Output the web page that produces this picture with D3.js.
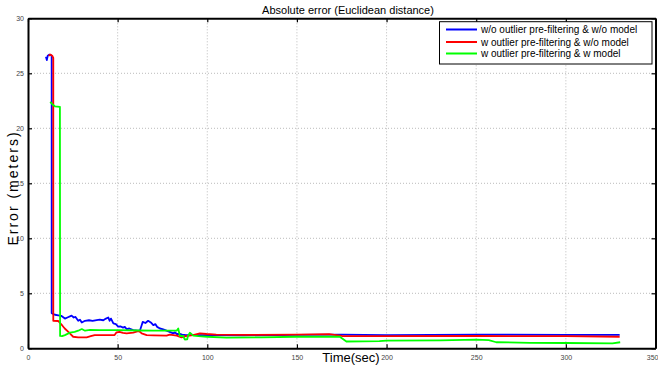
<!DOCTYPE html>
<html><head><meta charset="utf-8">
<script src="https://cdn.jsdelivr.net/npm/d3@7"></script>
<style>body{margin:0;background:#fff;} svg{display:block;font-family:"Liberation Sans",Arial,sans-serif;}</style>
</head><body>
<script>
const title = "Absolute error (Euclidean distance)";
const xLabel = "Time(sec)";
const yLabel = "Error (meters)";
const xTicks = [0,50,100,150,200,250,300,350];
const yTicks = [0,5,10,15,20,25,30];
const seriesNames = ["w/o outlier pre-filtering & w/o model","w outlier pre-filtering & w/o model","w outlier pre-filtering & w model"];
const seriesColors = ["#0000ff","#ff0000","#00ff00"];

const blueT = [10,10.5,11,12,13.2,13.2,15,16.9,18.5,20.6,22,24.3,25.5,26.5,28,29,30,31.8,34,36,38.3,40,42,43.5,44.8,45.5,46.3,47.6,49,50.3,51.5,53,54,55,56.5,58.7,60.5,62.4,63.4,64,65.5,67,68.5,69.9,71,72,73.6,75,77.3,79,81,82,83,84.7,86,88,100,120,150,175,200,250,300,330];
const blueV = [26.5,26.2,26.6,26.7,26.6,3.2,3.05,3.0,2.95,2.7,2.8,2.97,2.8,2.85,2.5,2.6,2.35,2.5,2.55,2.5,2.57,2.6,2.55,2.7,2.8,2.5,2.7,2.27,2.2,1.97,2.0,1.88,1.95,1.75,1.8,1.66,1.62,1.6,2.1,2.4,2.3,2.5,2.35,2.1,2.2,1.95,1.8,1.75,1.6,1.5,1.36,1.45,1.3,1.3,1.25,1.2,1.2,1.18,1.22,1.25,1.2,1.25,1.22,1.22];

const redT = [11.5,12.5,13.5,14.1,14.1,16.9,17.8,19,20.5,22.5,24,25.2,28,32.7,35,37.2,42,48.3,49.4,51,53,55,58.7,61.5,62.5,63.4,66.2,70,77.3,79,81,83,85.6,88,92,95.9,99.6,105,120,150,168,175,200,250,300,330];
const redV = [26.6,26.7,26.6,26.4,2.5,2.48,2.3,2.1,1.8,1.5,1.25,1.05,1.0,1.0,1.1,1.2,1.2,1.2,1.45,1.5,1.4,1.36,1.42,1.55,1.5,1.36,1.2,1.18,1.15,1.25,1.2,1.15,1.0,1.1,1.2,1.36,1.3,1.25,1.22,1.25,1.28,1.12,1.1,1.12,1.1,1.05];

const greenT = [12.4,13.5,15,17.8,17.9,19,20.6,23.4,26,28,30,31.8,34.6,40,50,62.4,70,76.4,82.9,83.8,84.7,86.5,87.5,88.8,89.2,90.3,92.2,95,100,110.7,130,149,173.9,177.6,196,200,230,250,257,261.2,280,300,326,330.3];
const greenV = [22.4,22.2,22.0,21.95,1.12,1.1,1.2,1.42,1.5,1.6,1.75,1.6,1.68,1.66,1.66,1.62,1.6,1.6,1.6,1.8,1.12,1.12,0.8,0.82,1.12,1.42,1.15,1.1,1.05,0.97,1.0,1.05,1.05,0.62,0.65,0.7,0.72,0.78,0.75,0.55,0.5,0.48,0.45,0.55];

const W = 658, H = 368;
const svg = d3.select("body").append("svg").attr("width",W).attr("height",H);
const x = d3.scaleLinear().domain([0,350]).range([28,655.5]);
const y = d3.scaleLinear().domain([0,30]).range([348.3,18.3]);

// grid
const g = svg.append("g");
g.selectAll(".vg").data(xTicks.slice(1,-1)).enter().append("line")
  .attr("x1",d=>x(d)).attr("x2",d=>x(d)).attr("y1",y(0)).attr("y2",y(30))
  .attr("stroke","#aaa").attr("stroke-width",0.8).attr("stroke-dasharray","1,2");
g.selectAll(".hg").data(yTicks.slice(1,-1)).enter().append("line")
  .attr("y1",d=>y(d)).attr("y2",d=>y(d)).attr("x1",x(0)).attr("x2",x(350))
  .attr("stroke","#aaa").attr("stroke-width",0.8).attr("stroke-dasharray","1,2");

// series
const series = [[blueT,blueV],[redT,redV],[greenT,greenV]];
const line = d3.line().x(d=>x(d[0])).y(d=>y(d[1]));
series.forEach((s,i)=>{
  const pts = s[0].map((t,j)=>[t,s[1][j]]);
  svg.append("path").attr("d",line(pts)).attr("fill","none")
    .attr("stroke",seriesColors[i]).attr("stroke-width",1.8).attr("stroke-linejoin","round");
});

// axes (box with inward ticks)
const xAxB = d3.axisBottom(x).tickValues(xTicks).tickSizeInner(-4).tickSizeOuter(0).tickPadding(7);
const yAxL = d3.axisLeft(y).tickValues(yTicks).tickSizeInner(-4).tickSizeOuter(0).tickPadding(4);
const xAxT = d3.axisTop(x).tickValues(xTicks).tickSizeInner(-4).tickSizeOuter(0).tickFormat("");
const yAxR = d3.axisRight(y).tickValues(yTicks).tickSizeInner(-4).tickSizeOuter(0).tickFormat("");
function style(sel){
  sel.selectAll(".domain").attr("stroke","#000").attr("stroke-width",2);
  sel.selectAll(".tick line").attr("stroke","#000").attr("stroke-width",1.2);
  sel.selectAll(".tick text").attr("fill","#444").attr("font-size","7px").attr("font-family","Liberation Sans, Arial, sans-serif");
}
const xb = svg.append("g").attr("transform",`translate(0,${y(0)})`).call(xAxB).call(style);
xb.selectAll(".tick text").filter(d=>d===350).attr("text-anchor","end").attr("dx","2.5");
svg.append("g").attr("transform",`translate(${x(0)},0)`).call(yAxL).call(style);
svg.append("g").attr("transform",`translate(0,${y(30)})`).call(xAxT).call(style);
svg.append("g").attr("transform",`translate(${x(350)},0)`).call(yAxR).call(style);

// title and labels
svg.append("text").attr("x",348).attr("y",13.5).attr("text-anchor","middle")
  .attr("font-size","11px").attr("fill","#000").text(title);
svg.append("text").attr("x",351).attr("y",361.5).attr("text-anchor","middle")
  .attr("font-size","13px").attr("fill","#000").text(xLabel);
svg.append("text").attr("transform","translate(18,188) rotate(-90)").attr("text-anchor","middle")
  .attr("font-size","14px").attr("letter-spacing","2px").attr("fill","#000").text(yLabel);

// legend
const lg = svg.append("g");
lg.append("rect").attr("x",439.5).attr("y",21.7).attr("width",212.5).attr("height",42.3)
  .attr("fill","#fff").attr("stroke","#000").attr("stroke-width",1);
const rowsY = [29.5,42,53.5];
seriesNames.forEach((n,i)=>{
  lg.append("line").attr("x1",446).attr("x2",477).attr("y1",rowsY[i]).attr("y2",rowsY[i])
    .attr("stroke",seriesColors[i]).attr("stroke-width",2);
  lg.append("text").attr("x",481).attr("y",rowsY[i]+3.5).attr("font-size","10px").attr("fill","#000").text(n);
});
</script>
</body></html>
